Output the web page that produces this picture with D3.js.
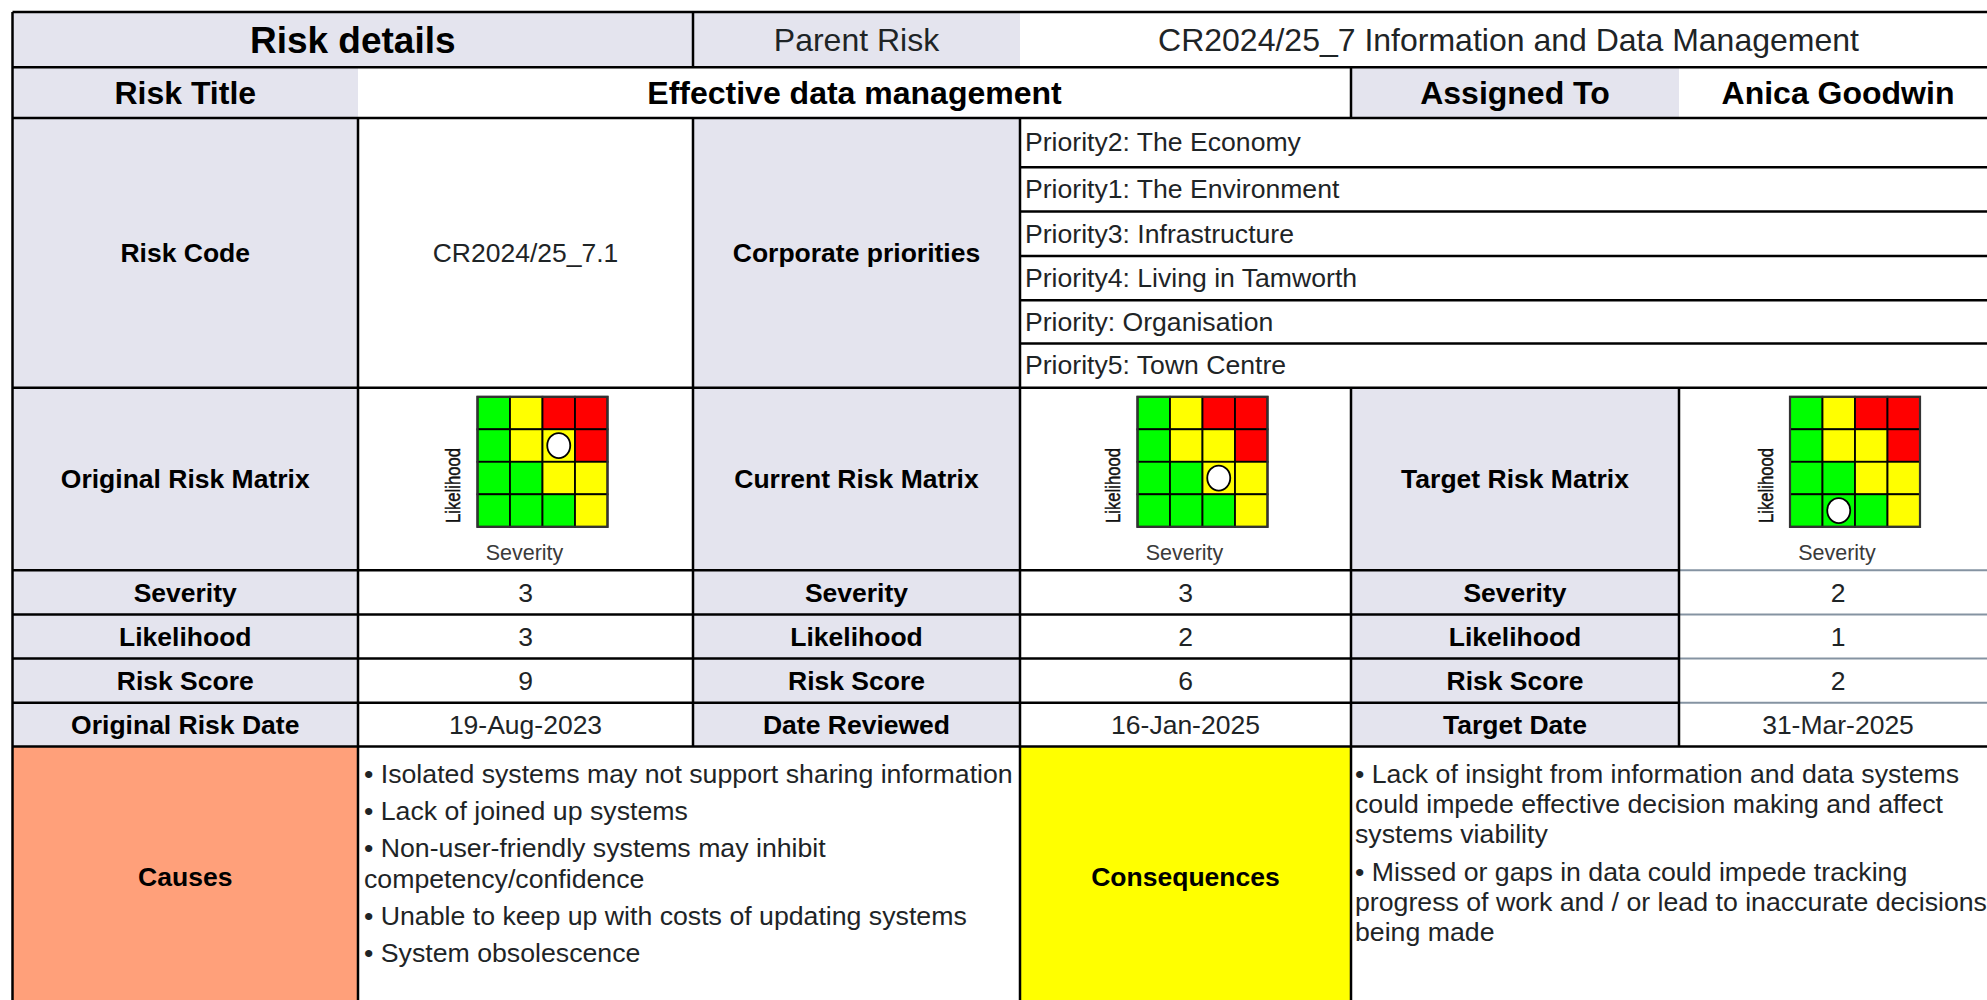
<!DOCTYPE html>
<html><head><meta charset="utf-8">
<script src="https://cdn.jsdelivr.net/npm/d3@7"></script>
<style>html,body{margin:0;padding:0;background:#fff;overflow:hidden}</style>
</head><body><svg id="c" width="1987" height="1000"></svg>
<script>
// ---------- DATA ----------
const headerTitle = "Risk details";
const parentRiskLabel = "Parent Risk";
const parentRisk = "CR2024/25_7 Information and Data Management";
const riskTitleLabel = "Risk Title";
const riskTitle = "Effective data management";
const assignedToLabel = "Assigned To";
const assignedTo = "Anica Goodwin";
const riskCodeLabel = "Risk Code";
const riskCode = "CR2024/25_7.1";
const prioritiesLabel = "Corporate priorities";
const priorities = ["Priority2: The Economy", "Priority1: The Environment", "Priority3: Infrastructure",
  "Priority4: Living in Tamworth", "Priority: Organisation", "Priority5: Town Centre"];
const matrixNames = ["Original Risk Matrix", "Current Risk Matrix", "Target Risk Matrix"];
const rowLabels = ["Severity", "Likelihood", "Risk Score"];
const severityValues = [3, 3, 2];
const likelihoodValues = [3, 2, 1];
const riskScores = [9, 6, 2];
const dateLabels = ["Original Risk Date", "Date Reviewed", "Target Date"];
const dateValues = ["19-Aug-2023", "16-Jan-2025", "31-Mar-2025"];
const severityLevels = [1, 2, 3, 4];
const likelihoodLevels = [4, 3, 2, 1];
const matrixRatings = [            // rows: likelihood 4..1, columns: severity 1..4
  ["low", "medium", "high", "high"],
  ["low", "medium", "medium", "high"],
  ["low", "low", "medium", "medium"],
  ["low", "low", "low", "medium"]];
const axisSeverity = "Severity", axisLikelihood = "Likelihood";
const causesLabel = "Causes";
const causes = [
  ["• Isolated systems may not support sharing information"],
  ["• Lack of joined up systems"],
  ["• Non-user-friendly systems may inhibit", "competency/confidence"],
  ["• Unable to keep up with costs of updating systems"],
  ["• System obsolescence"]];
const consequencesLabel = "Consequences";
const consequences = [
  ["• Lack of insight from information and data systems", "could impede effective decision making and affect", "systems viability"],
  ["• Missed or gaps in data could impede tracking", "progress of work and / or lead to inaccurate decisions", "being made"]];

// ---------- LAYOUT ----------
const X = [12.5, 358, 693, 1020, 1351, 1679, 1997];
const Y = [12, 67.2, 117.9, 387.8, 570.2, 614.6, 658.6, 702.7, 746.6, 1010];
const subY = [117.9, 167.3, 211.6, 256, 300.3, 343.4, 387.8];
const LAV = "#e4e4ee", WHITE = "#ffffff", SALMON = "#ffa07a", YEL = "#ffff00";
const FONT = "'Liberation Sans', Arial, Helvetica, sans-serif";
const TXT = "#1e2426", BLK = "#000";

const svg = d3.select("#c");
const gFill = svg.append("g"), gText = svg.append("g"), gLines = svg.append("g");

function rect(x0, x1, y0, y1, fill) {
  gFill.append("rect").attr("x", x0).attr("y", y0).attr("width", x1 - x0).attr("height", y1 - y0).attr("fill", fill);
}
function text(x, y, s, size, bold, anchor, fill) {
  return gText.append("text").attr("x", x).attr("y", y).text(s)
    .attr("font-family", FONT).attr("font-size", size)
    .attr("font-weight", bold ? "bold" : "normal")
    .attr("text-anchor", anchor || "middle").attr("fill", fill || (bold ? BLK : TXT));
}
function cell(x0, x1, y0, y1, fill, s, size, bold) {
  rect(x0, x1, y0, y1, fill);
  if (s !== undefined && s !== null) text((x0 + x1) / 2, (y0 + y1) / 2 + 0.35 * size, s, size, bold);
}
function hline(x0, x1, y, color, w) {
  gLines.append("line").attr("x1", x0).attr("x2", x1).attr("y1", y).attr("y2", y)
    .attr("stroke", color || "#000").attr("stroke-width", w || 2.5);
}
function vline(x, y0, y1, color, w) {
  gLines.append("line").attr("x1", x).attr("x2", x).attr("y1", y0).attr("y2", y1)
    .attr("stroke", color || "#000").attr("stroke-width", w || 2.5);
}

// Row 0
cell(X[0], X[2], Y[0], Y[1], LAV, headerTitle, 37, true);
cell(X[2], X[3], Y[0], Y[1], LAV, parentRiskLabel, 32, false);
cell(X[3], X[6], Y[0], Y[1], WHITE, parentRisk, 32, false);
// Row 1
cell(X[0], X[1], Y[1], Y[2], LAV, riskTitleLabel, 32, true);
cell(X[1], X[4], Y[1], Y[2], WHITE, riskTitle, 32, true);
cell(X[4], X[5], Y[1], Y[2], LAV, assignedToLabel, 32, true);
cell(X[5], X[6], Y[1], Y[2], WHITE, assignedTo, 32, true);
// Row 2
cell(X[0], X[1], Y[2], Y[3], LAV, riskCodeLabel, 26.5, true);
cell(X[1], X[2], Y[2], Y[3], WHITE, riskCode, 26.5, false);
cell(X[2], X[3], Y[2], Y[3], LAV, prioritiesLabel, 26.5, true);
priorities.forEach((p, i) => {
  rect(X[3], X[6], subY[i], subY[i + 1], WHITE);
  text(X[3] + 5, (subY[i] + subY[i + 1]) / 2 + 0.33 * 26.5, p, 26.6, false, "start");
});
// Row 3 : matrices
const colour = d3.scaleOrdinal().domain(["low", "medium", "high"]).range(["#00ff00", "#ffff00", "#ff0000"]);
function matrix(cx, sev, lik) {
  const gx = cx - 48, gy = Y[3] + 9, size = 130;
  const xs = d3.scaleBand().domain(severityLevels).range([gx, gx + size]);
  const ys = d3.scaleBand().domain(likelihoodLevels).range([gy, gy + size]);
  const g = gText.append("g");
  const cells = [];
  likelihoodLevels.forEach((l, r) => severityLevels.forEach((s, c) => cells.push({ s, l, rating: matrixRatings[r][c] })));
  g.selectAll("rect").data(cells).join("rect")
    .attr("x", d => xs(d.s)).attr("y", d => ys(d.l))
    .attr("width", xs.bandwidth()).attr("height", ys.bandwidth())
    .attr("fill", d => colour(d.rating)).attr("stroke", "#000").attr("stroke-width", 1.8);
  g.append("rect").attr("x", gx).attr("y", gy).attr("width", size).attr("height", size)
    .attr("fill", "none").attr("stroke", "#333").attr("stroke-width", 2.2);
  g.append("ellipse").attr("cx", xs(sev) + xs.bandwidth() / 2).attr("cy", ys(lik) + ys.bandwidth() / 2)
    .attr("rx", 11.5).attr("ry", 12.5).attr("fill", "#fff").attr("stroke", "#000").attr("stroke-width", 1.8);
  g.append("text").attr("x", cx - 1).attr("y", 560).text(axisSeverity)
    .attr("font-family", FONT).attr("font-size", 21.5).attr("text-anchor", "middle").attr("fill", "#3a3a3a");
  g.append("text").attr("transform", `translate(${cx - 73},${485.5}) rotate(-90)`).text(axisLikelihood)
    .attr("font-family", FONT).attr("font-size", 21).attr("text-anchor", "middle")
    .attr("dominant-baseline", "central").attr("textLength", 75).attr("lengthAdjust", "spacingAndGlyphs")
    .attr("fill", "#111").attr("stroke", "#111").attr("stroke-width", 0.5);
}
for (let k = 0; k < 3; k++) {
  const a = X[2 * k], b = X[2 * k + 1], c = X[2 * k + 2];
  cell(a, b, Y[3], Y[4], LAV, matrixNames[k], 26.5, true);
  rect(b, c, Y[3], Y[4], WHITE);
  matrix((b + c) / 2, severityValues[k], likelihoodValues[k]);
}
// Rows 4-7
const valueRows = [severityValues, likelihoodValues, riskScores];
for (let r = 0; r < 4; r++) {
  for (let k = 0; k < 3; k++) {
    const a = X[2 * k], b = X[2 * k + 1], c = X[2 * k + 2];
    const lab = r < 3 ? rowLabels[r] : dateLabels[k];
    const val = r < 3 ? String(valueRows[r][k]) : dateValues[k];
    cell(a, b, Y[4 + r], Y[5 + r], LAV, lab, 26.5, true);
    cell(b, c, Y[4 + r], Y[5 + r], WHITE, val, 26.5, false);
  }
}
// Row 8 : causes / consequences
const midCC = 877;
rect(X[0], X[1], Y[8], Y[9], SALMON);
text((X[0] + X[1]) / 2, midCC + 0.35 * 26.5, causesLabel, 26.5, true);
rect(X[1], X[3], Y[8], Y[9], WHITE);
rect(X[3], X[4], Y[8], Y[9], YEL);
text((X[3] + X[4]) / 2, midCC + 0.35 * 26.5, consequencesLabel, 26.5, true);
rect(X[4], X[6], Y[8], Y[9], WHITE);
function bullets(x, list) {
  let y = 782.7;
  list.forEach((para, i) => {
    if (i > 0) y += 7;
    para.forEach((ln, j) => {
      if (j > 0 || i > 0) y += 30.3;
      text(x, y, ln, 26.7, false, "start");
    });
  });
}
bullets(X[1] + 6, causes);
bullets(X[4] + 4, consequences);

// ---------- LINES ----------
hline(X[0], X[6], Y[0]);
hline(X[0], X[6], Y[1]);
hline(X[0], X[6], Y[2]);
subY.slice(1, -1).forEach(y => hline(X[3], X[6], y));
hline(X[0], X[6], Y[3]);
for (let r = 4; r <= 7; r++) {
  hline(X[0], X[5], Y[r]);
  hline(X[5], X[6], Y[r], "#8593a2", 2);
}
hline(X[0], X[6], Y[8]);
vline(X[0], Y[0], Y[9]);
vline(X[2], Y[0], Y[1]);
vline(X[4], Y[1], Y[2]);
[X[1], X[2], X[3]].forEach(x => vline(x, Y[2], Y[3]));
[X[1], X[2], X[3], X[4], X[5]].forEach(x => vline(x, Y[3], Y[8]));
[X[1], X[3], X[4]].forEach(x => vline(x, Y[8], Y[9]));
</script>
</body></html>
